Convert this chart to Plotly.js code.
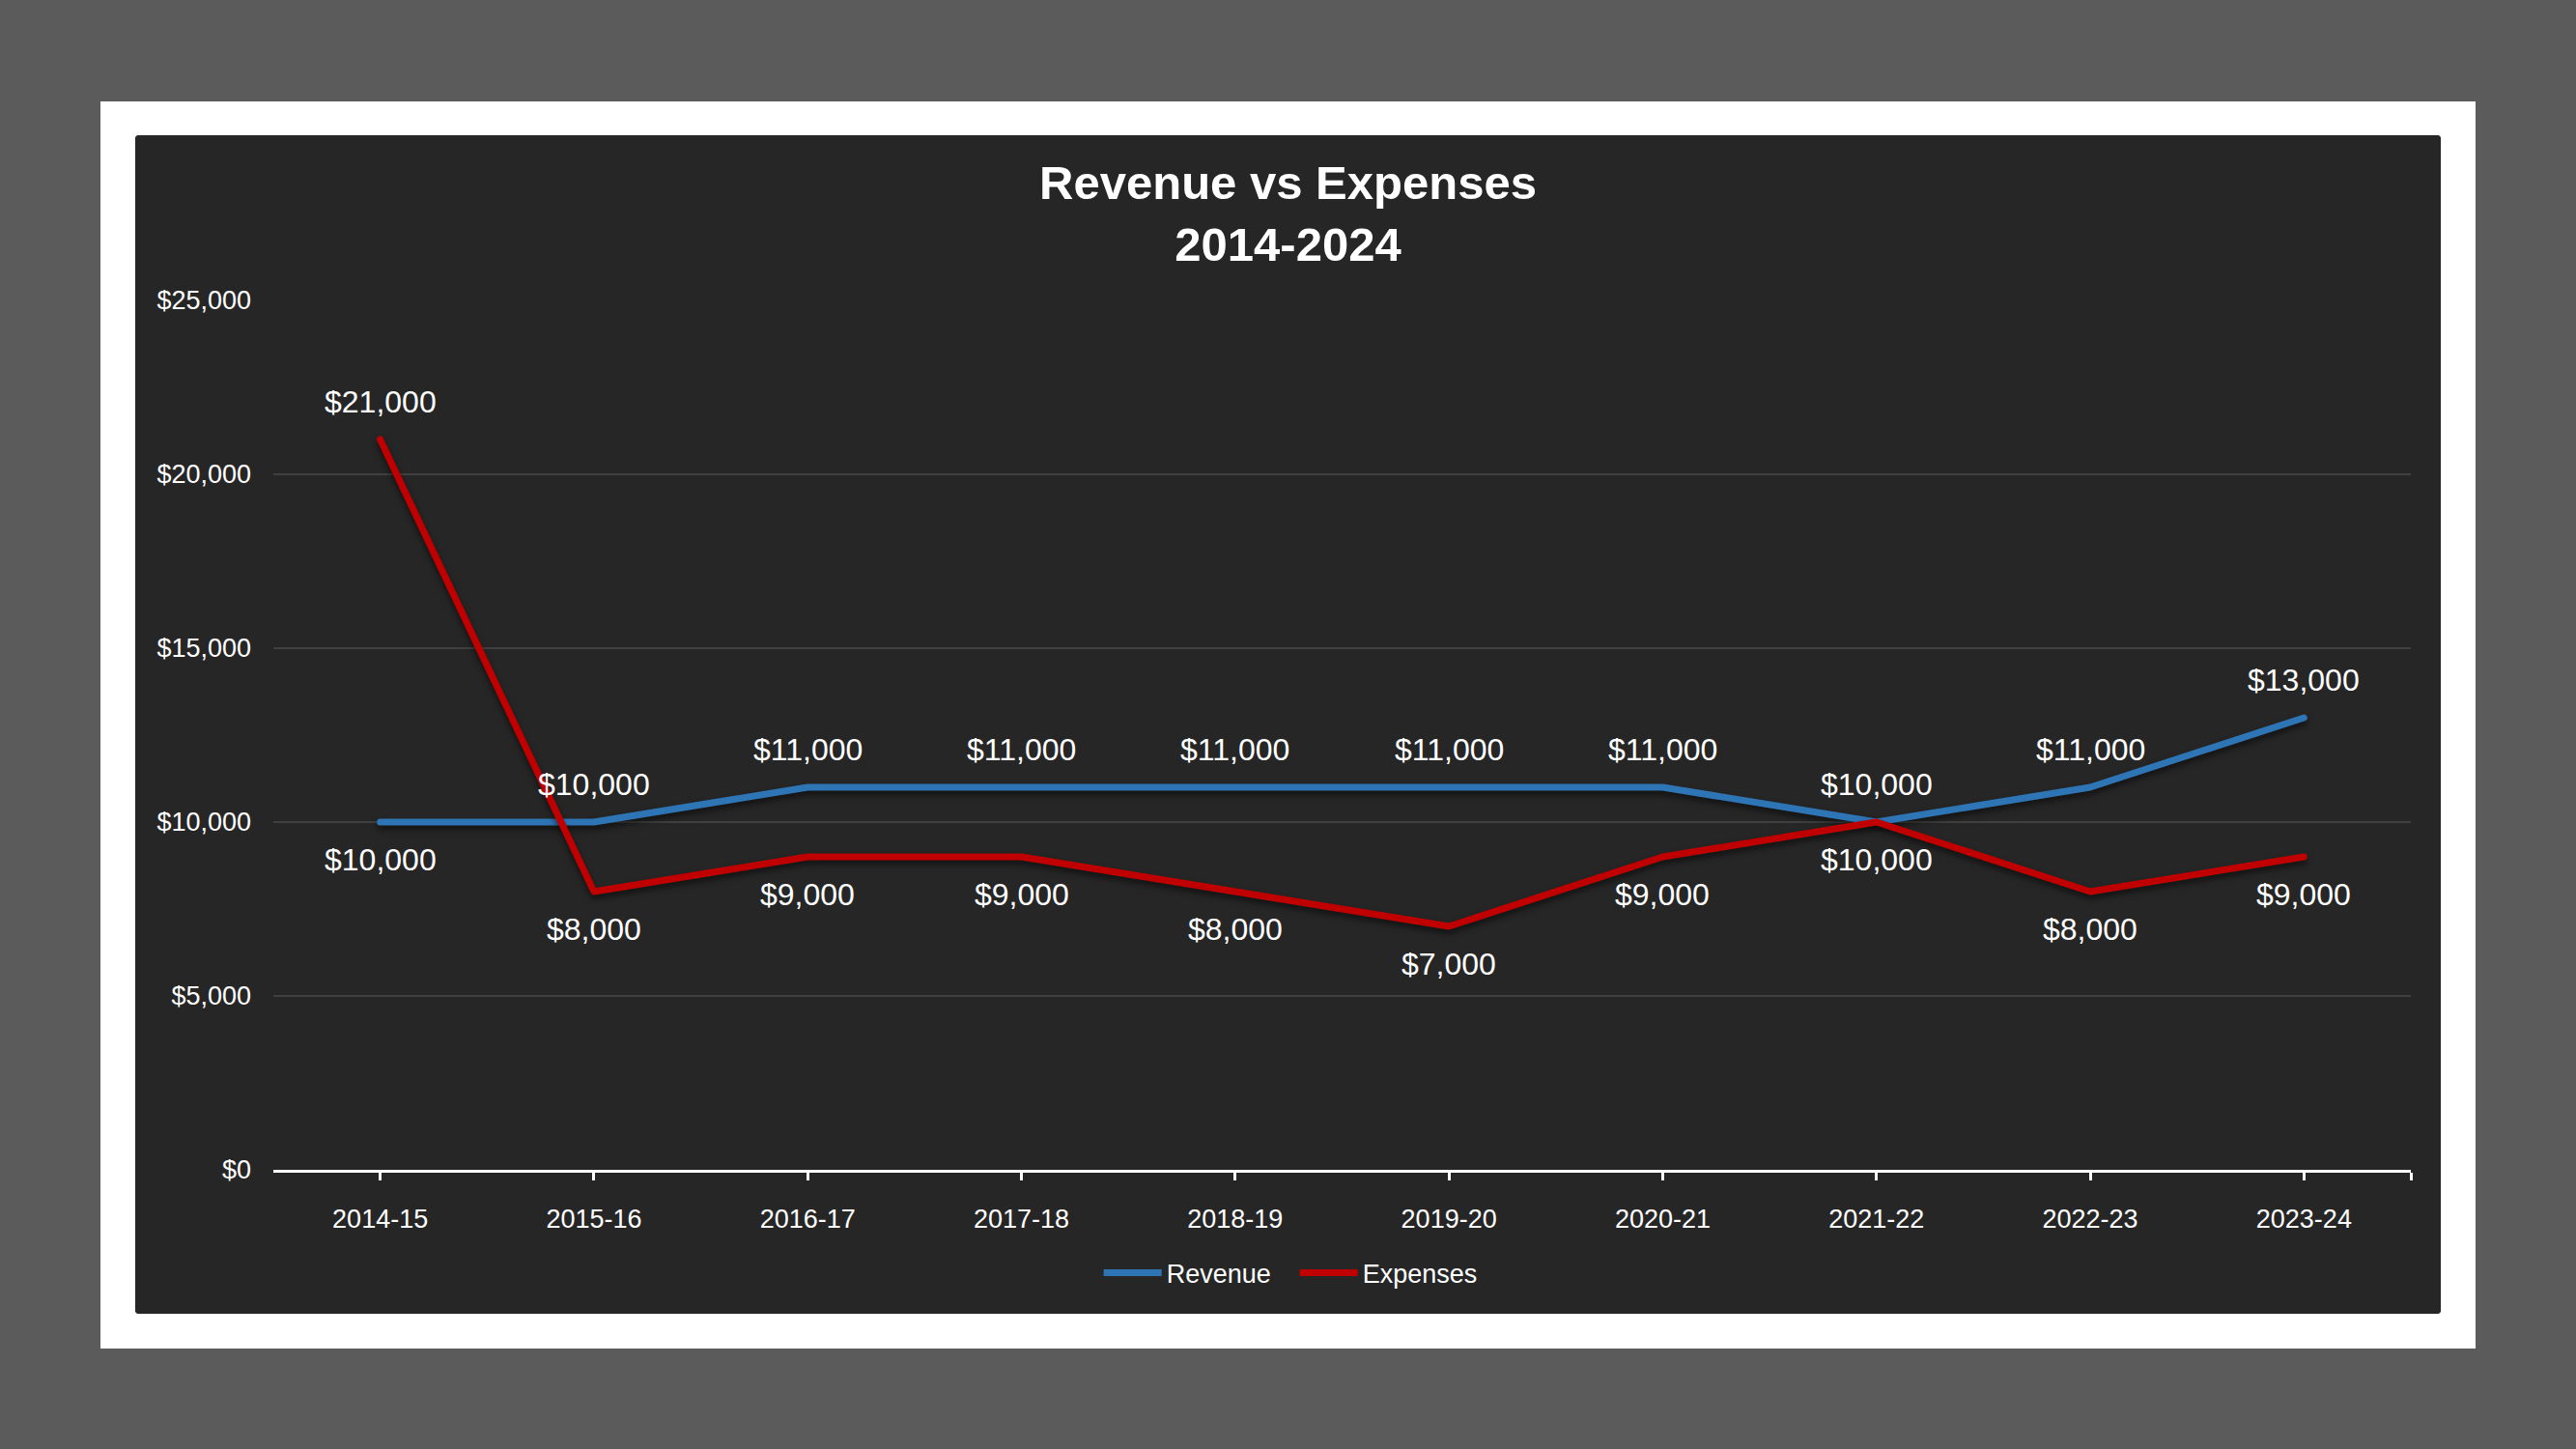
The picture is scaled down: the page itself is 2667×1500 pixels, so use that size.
<!DOCTYPE html>
<html>
<head>
<meta charset="utf-8">
<script src="https://cdn.plot.ly/plotly-3.0.1.min.js"></script>
<style>
  html, body { margin: 0; padding: 0; width: 2667px; height: 1500px; background: #5b5b5b; overflow: hidden; }
  #frame { position: absolute; left: 104px; top: 105px; width: 2459px; height: 1291px; background: #ffffff; }
  #panel { position: absolute; left: 140px; top: 140px; width: 2387px; height: 1220px; background: #262626; border-radius: 4px; overflow: hidden; }
  #chart { position: absolute; left: 0; top: 0; width: 2387px; height: 1220px; }
  .scatterlayer .js-line { stroke-linejoin: round; stroke-linecap: round; filter: drop-shadow(0px 4px 3px rgba(0,0,0,0.55)); }
</style>
</head>
<body>
<div id="frame"></div>
<div id="panel"><div id="chart"></div></div>
<script>
const categories = ["2014-15","2015-16","2016-17","2017-18","2018-19","2019-20","2020-21","2021-22","2022-23","2023-24"];
const revenue  = [10000, 10000, 11000, 11000, 11000, 11000, 11000, 10000, 11000, 13000];
const expenses = [21000,  8000,  9000,  9000,  8000,  7000,  9000, 10000,  8000,  9000];
const yTickVals = [0, 5000, 10000, 15000, 20000, 25000];

const FONT = "Liberation Sans, Arial, sans-serif";
const BLUE = "#2E75B6";
const RED = "#C00000";
const idx = categories.map((c, i) => i);
const fmt = v => "$" + v.toLocaleString("en-US");

const traces = [
  { x: idx, y: revenue, name: "Revenue", type: "scatter", mode: "lines",
    line: { color: BLUE, width: 7 }, hoverinfo: "skip" },
  { x: idx, y: expenses, name: "Expenses", type: "scatter", mode: "lines",
    line: { color: RED, width: 7 }, hoverinfo: "skip" }
];

const annotations = [];
idx.forEach(i => {
  const revAbove = revenue[i] >= expenses[i];
  annotations.push({ x: i, y: revenue[i], xref: "x", yref: "y", text: fmt(revenue[i]),
    showarrow: false, yshift: revAbove ? 39 : -39, font: { family: FONT, size: 32, color: "#ffffff" } });
  annotations.push({ x: i, y: expenses[i], xref: "x", yref: "y", text: fmt(expenses[i]),
    showarrow: false, yshift: revAbove ? -39 : 39, font: { family: FONT, size: 32, color: "#ffffff" } });
});

const layout = {
  width: 2387, height: 1220,
  paper_bgcolor: "#262626", plot_bgcolor: "#262626",
  margin: { l: 143, r: 31, t: 171, b: 149, pad: 0 },
  font: { family: FONT, color: "#ffffff", size: 27 },
  title: { text: "<b>Revenue vs Expenses</b><br><b>2014-2024</b>",
    font: { family: FONT, size: 49, color: "#ffffff" },
    x: 0.5, xref: "container", xanchor: "center",
    y: 1 - 66 / 1220, yref: "container", yanchor: "top" },
  xaxis: {
    range: [-0.5, 9.5], tickmode: "array",
    tickvals: idx.concat([9.5]), ticktext: categories.concat([""]),
    showgrid: false, zeroline: false,
    showline: true, linecolor: "#ffffff", linewidth: 3,
    ticks: "outside", ticklen: 8, tickwidth: 3, tickcolor: "#ffffff",
    tickfont: { family: FONT, size: 27, color: "#ffffff" },
    ticklabelstandoff: 17, fixedrange: true
  },
  yaxis: {
    range: [0, 25000], tickmode: "array", tickvals: yTickVals,
    ticktext: yTickVals.map(fmt),
    showgrid: true, gridcolor: "#404040", gridwidth: 2,
    zeroline: false, showline: false, ticks: "",
    tickfont: { family: FONT, size: 27, color: "#ffffff" },
    ticklabelstandoff: 22, fixedrange: true
  },
  showlegend: true,
  legend: {
    orientation: "h", xref: "container", x: 0.503, xanchor: "center",
    yref: "container", y: 1 - 1178 / 1220, yanchor: "middle",
    font: { family: FONT, size: 27, color: "#ffffff" },
    bgcolor: "rgba(0,0,0,0)", itemwidth: 60, tracegroupgap: 0,
    entrywidth: 128, entrywidthmode: "pixels"
  },
  annotations: annotations
};

Plotly.newPlot("chart", traces, layout, { displayModeBar: false, staticPlot: true });
</script>
</body>
</html>
